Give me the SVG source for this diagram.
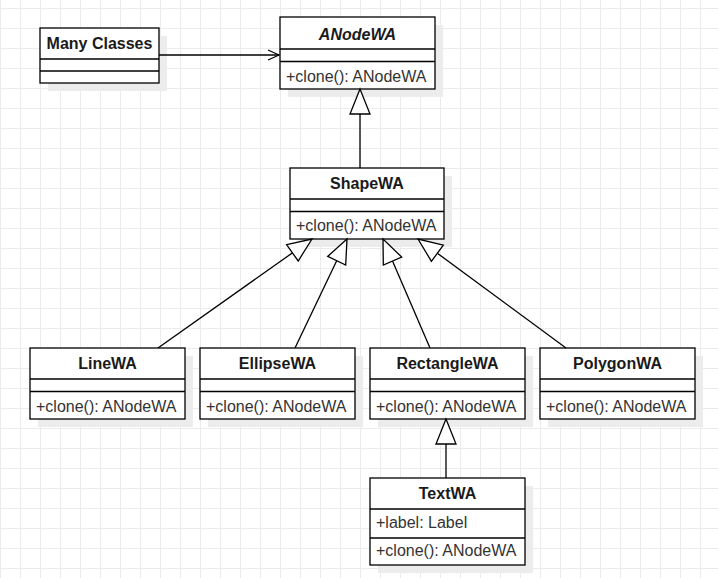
<svg xmlns="http://www.w3.org/2000/svg" width="718" height="578" viewBox="0 0 718 578">
<defs>
<pattern id="grid" x="0" y="8" width="20" height="20" patternUnits="userSpaceOnUse">
<path d="M0.5 0 V20 M0 0.5 H20" stroke="#ebebeb" stroke-width="1" fill="none"/>
</pattern>
<marker id="open" markerWidth="14" markerHeight="14" refX="12" refY="7" orient="auto" markerUnits="userSpaceOnUse">
<path d="M1 2 L12 7 L1 12" fill="none" stroke="#000" stroke-width="1.2"/>
</marker>
</defs>
<style>
.box{fill:#fff;stroke:#000;stroke-width:1.3}
.sh{fill:#ececec}
.ln{stroke:#000;stroke-width:1.3;fill:none}
.tri{fill:#fff;stroke:#000;stroke-width:1.3;stroke-linejoin:miter}
.t{font-family:"Liberation Sans",Arial,sans-serif;font-size:16px;font-weight:bold;fill:#1a1a1a;text-anchor:middle}
.m{font-family:"Liberation Sans",Arial,sans-serif;font-size:16px;fill:#333}
</style>
<rect width="718" height="578" fill="#fff"/>
<rect width="718" height="578" fill="url(#grid)"/>

<g id="many-classes">
<rect class="sh" x="48" y="36" width="119" height="55"/>
<rect class="box" x="40" y="28" width="119" height="55"/>
<line class="ln" x1="40" y1="59" x2="159" y2="59"/>
<line class="ln" x1="40" y1="71" x2="159" y2="71"/>
<text class="t" x="99.5" y="49">Many Classes</text>
</g>

<g id="anodewa">
<rect class="sh" x="288" y="25" width="155" height="72"/>
<rect class="box" x="280" y="17" width="155" height="72"/>
<line class="ln" x1="280" y1="49" x2="435" y2="49"/>
<line class="ln" x1="280" y1="61.5" x2="435" y2="61.5"/>
<text class="t" x="357.5" y="39.5" font-style="italic">ANodeWA</text>
<text class="m" x="286" y="81.5">+clone(): ANodeWA</text>
</g>

<g id="shapewa">
<rect class="sh" x="298" y="176" width="154" height="71"/>
<rect class="box" x="290" y="168" width="154" height="71"/>
<line class="ln" x1="290" y1="199" x2="444" y2="199"/>
<line class="ln" x1="290" y1="211.5" x2="444" y2="211.5"/>
<text class="t" x="367" y="189">ShapeWA</text>
<text class="m" x="296" y="230.5">+clone(): ANodeWA</text>
</g>

<g id="linewa">
<rect class="sh" x="38" y="356" width="155" height="71"/>
<rect class="box" x="30" y="348" width="155" height="71"/>
<line class="ln" x1="30" y1="379" x2="185" y2="379"/>
<line class="ln" x1="30" y1="391.5" x2="185" y2="391.5"/>
<text class="t" x="107.5" y="369">LineWA</text>
<text class="m" x="36" y="411.5">+clone(): ANodeWA</text>
</g>

<g id="ellipsewa">
<rect class="sh" x="208" y="356" width="155" height="71"/>
<rect class="box" x="200" y="348" width="155" height="71"/>
<line class="ln" x1="200" y1="379" x2="355" y2="379"/>
<line class="ln" x1="200" y1="391.5" x2="355" y2="391.5"/>
<text class="t" x="277.5" y="369">EllipseWA</text>
<text class="m" x="206" y="411.5">+clone(): ANodeWA</text>
</g>

<g id="rectanglewa">
<rect class="sh" x="378" y="356" width="155" height="71"/>
<rect class="box" x="370" y="348" width="155" height="71"/>
<line class="ln" x1="370" y1="379" x2="525" y2="379"/>
<line class="ln" x1="370" y1="391.5" x2="525" y2="391.5"/>
<text class="t" x="447.5" y="369">RectangleWA</text>
<text class="m" x="376" y="411.5">+clone(): ANodeWA</text>
</g>

<g id="polygonwa">
<rect class="sh" x="548" y="356" width="155" height="71"/>
<rect class="box" x="540" y="348" width="155" height="71"/>
<line class="ln" x1="540" y1="379" x2="695" y2="379"/>
<line class="ln" x1="540" y1="391.5" x2="695" y2="391.5"/>
<text class="t" x="617.5" y="369">PolygonWA</text>
<text class="m" x="546" y="411.5">+clone(): ANodeWA</text>
</g>

<g id="textwa">
<rect class="sh" x="378" y="486" width="155" height="87"/>
<rect class="box" x="370" y="478" width="155" height="87"/>
<line class="ln" x1="370" y1="509" x2="525" y2="509"/>
<line class="ln" x1="370" y1="538" x2="525" y2="538"/>
<text class="t" x="447.5" y="499">TextWA</text>
<text class="m" x="376" y="528">+label: Label</text>
<text class="m" x="376" y="556">+clone(): ANodeWA</text>
</g>

<g id="connectors">
<line class="ln" x1="159" y1="55" x2="279" y2="55" marker-end="url(#open)"/>
<line class="ln" x1="360" y1="114" x2="360" y2="168"/>
<polygon class="tri" points="360,89 370,114 350,114"/>
<line class="ln" x1="292.4" y1="252.9" x2="158" y2="348"/>
<polygon class="tri" points="312,239 298.2,261 286.6,244.7"/>
<line class="ln" x1="336.7" y1="260.7" x2="295" y2="348"/>
<polygon class="tri" points="347,239 345.7,265 327.7,256.4"/>
<line class="ln" x1="392.5" y1="261" x2="430" y2="348"/>
<polygon class="tri" points="383,239 383.3,265 401.7,257.1"/>
<line class="ln" x1="437.3" y1="253.2" x2="566" y2="348"/>
<polygon class="tri" points="418,239 431.4,261.3 443.3,245.2"/>
<line class="ln" x1="446" y1="444" x2="446" y2="478"/>
<polygon class="tri" points="446,419 456,444 436,444"/>
</g>
</svg>
